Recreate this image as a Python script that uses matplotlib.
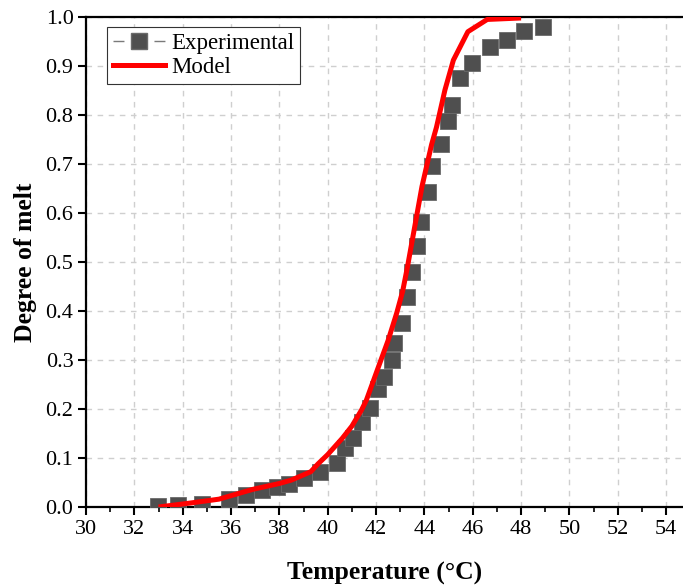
import matplotlib
matplotlib.use("Agg")
import matplotlib.pyplot as plt
from matplotlib.lines import Line2D

exp_T = [32.96, 33.8, 34.8, 35.9, 36.6, 37.3, 37.9, 38.4, 39.0, 39.7, 40.4,
         40.72, 41.06, 41.42, 41.74, 42.07, 42.33, 42.65, 42.76, 43.07, 43.28,
         43.48, 43.69, 43.84, 44.17, 44.32, 44.70, 44.98, 45.13, 45.49, 45.97,
         46.73, 47.42, 48.12, 48.89]
exp_y = [0.003, 0.004, 0.006, 0.016, 0.025, 0.035, 0.041, 0.046, 0.060, 0.072, 0.090,
         0.120, 0.141, 0.174, 0.202, 0.241, 0.265, 0.300, 0.334, 0.375, 0.429,
         0.480, 0.532, 0.582, 0.643, 0.696, 0.740, 0.788, 0.821, 0.875, 0.906,
         0.938, 0.954, 0.972, 0.980]

model_T = [33.0, 34.3, 35.5, 36.9, 38.0, 38.5, 39.3, 39.6, 40.0, 40.6, 41.0, 41.4,
           41.6, 42.1, 42.5, 42.85, 43.1, 43.3, 43.6, 43.9, 44.3, 44.5, 44.85, 45.2,
           45.8, 46.6, 48.0]
model_y = [0.000, 0.008, 0.016, 0.036, 0.048, 0.055, 0.072, 0.088, 0.107, 0.140, 0.165, 0.198,
           0.218, 0.286, 0.340, 0.395, 0.440, 0.490, 0.572, 0.654, 0.740, 0.775, 0.851, 0.912,
           0.970, 0.995, 0.998]

x_ticks = list(range(30, 55, 2))
y_ticks = [round(0.1 * i, 1) for i in range(11)]

plt.rcParams['font.family'] = ['Liberation Serif', 'DejaVu Serif']

fig = plt.figure(figsize=(6.83, 5.88), dpi=100)
ax = fig.add_axes([86/683, 81/588, 1 - 86/683, (507-17)/588])

ax.plot(exp_T, exp_y, linestyle='none', marker='s', markersize=12.2,
        markerfacecolor='#4f4f4f', markeredgecolor='#6a6a6a', markeredgewidth=0.6,
        zorder=3)
ax.plot(model_T, model_y, color='#ff0000', linewidth=3.6, zorder=4,
        solid_joinstyle='round', solid_capstyle='butt')

ax.set_xlim(30, 30 + (683 - 86) / 24.17)
ax.set_ylim(0, 1.0)
ax.set_xticks(x_ticks)
ax.set_xticks([t + 1 for t in x_ticks[:-1]], minor=True)
ax.set_yticks(y_ticks)
ax.set_yticklabels([f"{v:.1f}" for v in y_ticks])
ax.tick_params(axis='both', which='major', labelsize=16, direction='out',
               length=6, width=1.5, color='black')
ax.tick_params(axis='x', which='minor', direction='out', length=3.5, width=1.2)
ax.tick_params(axis='x', pad=3)
ax.tick_params(axis='y', pad=3)

ax.grid(True, which='major', linestyle=(0, (4, 4)), color='#cfcfcf', linewidth=1.0)
ax.set_axisbelow(True)

for s in ['left', 'bottom', 'top']:
    ax.spines[s].set_linewidth(1.6)
ax.spines['right'].set_visible(False)

ax.set_xlabel('Temperature (°C)', fontsize=18.5, fontweight='bold', labelpad=17)
ax.set_ylabel('Degree of melt', fontsize=18.5, fontweight='bold', labelpad=6)

leg_line = Line2D([], [], color='#7a7a7a', linewidth=1.0, dashes=(7.9, 21.6))
leg_mark = Line2D([], [], linestyle='none', marker='s', markersize=12,
                  markerfacecolor='#4f4f4f', markeredgecolor='#6a6a6a')
handles = [(leg_line, leg_mark), Line2D([], [], color='#ff0000', linewidth=3.6)]
leg = ax.legend(handles, ['Experimental', 'Model'], loc='upper left',
                bbox_to_anchor=(0.035, 0.98), fontsize=16.5, frameon=True,
                fancybox=False, edgecolor='#333333', framealpha=1,
                handlelength=2.27, handletextpad=0.3, borderpad=0.25,
                labelspacing=0.15, borderaxespad=0)
leg.get_frame().set_linewidth(0.8)

fig.savefig('out.png', dpi=100)
